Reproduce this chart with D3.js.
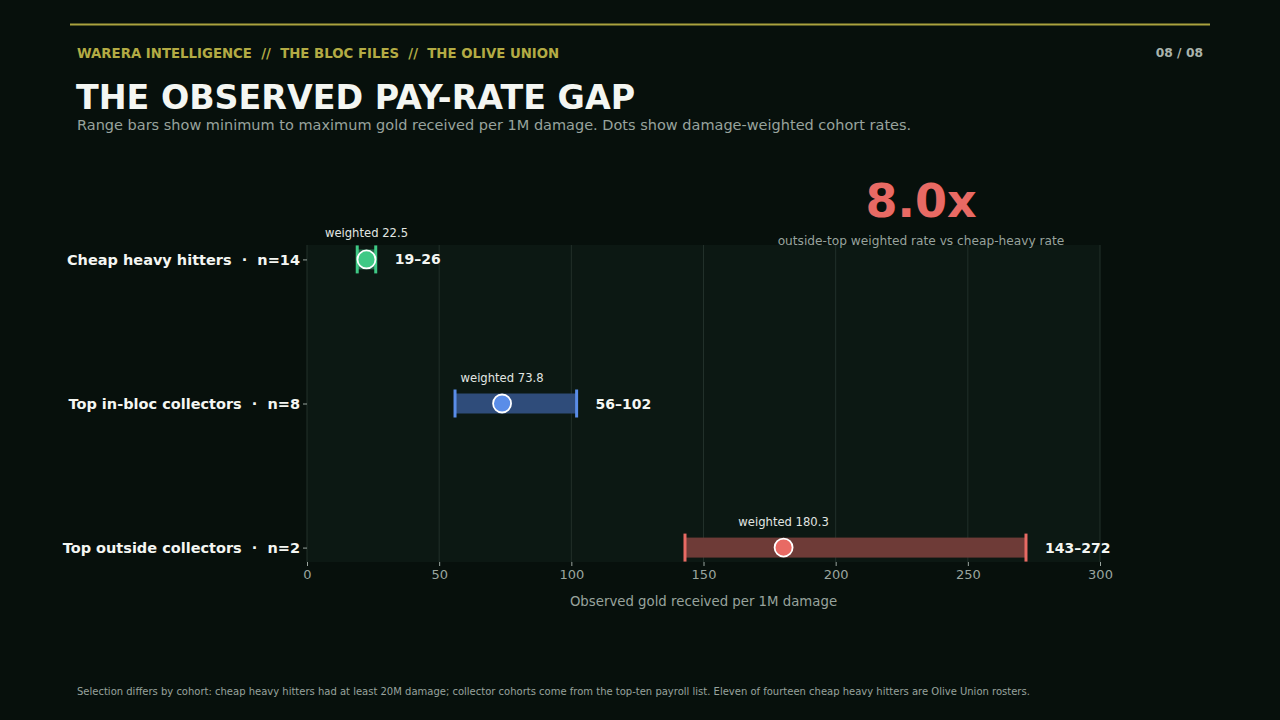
<!DOCTYPE html>
<html>
<head>
<meta charset="utf-8">
<script src="https://cdn.jsdelivr.net/npm/d3@7"></script>
<style>
  body { margin: 0; background: #07100c; }
  svg { display: block; font-family: "DejaVu Sans", sans-serif; }
</style>
</head>
<body>
<svg id="chart" width="1280" height="720"></svg>
<script>
// cohort data
const cohorts = ["Cheap heavy hitters  \u00b7  n=14", "Top in-bloc collectors  \u00b7  n=8", "Top outside collectors  \u00b7  n=2"];
const minRate = [19, 56, 143];
const maxRate = [26, 102, 272];
const weighted = [22.5, 73.8, 180.3];
const colors = ["#3fc985", "#5a8de8", "#e86a64"];
const fills = ["#24694a", "#2f4c7a", "#6e3b37"];
const xTicks = [0, 50, 100, 150, 200, 250, 300];

const ratio = weighted[2] / weighted[0];

const svg = d3.select("#chart");
const W = 1280;

svg.append("rect").attr("width", W).attr("height", 720).attr("fill", "#07100c");

// header
svg.append("line")
  .attr("x1", 70).attr("x2", 1210).attr("y1", 24.5).attr("y2", 24.5)
  .attr("stroke", "#aaa23e").attr("stroke-width", 2);

svg.append("text")
  .attr("x", 77).attr("y", 58)
  .attr("fill", "#b3ab44").style("font-size", "13.3px").style("font-weight", "bold")
  .attr("xml:space", "preserve")
  .text("WARERA INTELLIGENCE  //  THE BLOC FILES  //  THE OLIVE UNION");

svg.append("text")
  .attr("x", 1203).attr("y", 57).attr("text-anchor", "end")
  .attr("fill", "#aab4ad").style("font-size", "12.3px").style("font-weight", "bold")
  .text("08 / 08");

svg.append("text")
  .attr("x", 76).attr("y", 109)
  .attr("fill", "#f4f6f2").style("font-size", "33.3px").style("font-weight", "bold")
  .text("THE OBSERVED PAY-RATE GAP");

svg.append("text")
  .attr("x", 77).attr("y", 130)
  .attr("fill", "#98a39d").style("font-size", "14.5px")
  .text("Range bars show minimum to maximum gold received per 1M damage. Dots show damage-weighted cohort rates.");

// plot area
const x = d3.scaleLinear().domain([0, 300]).range([307, 1100]);
const y = d3.scalePoint().domain(cohorts).range([245, 562]).padding(0.1);

svg.append("rect")
  .attr("x", x(0)).attr("y", 245)
  .attr("width", x(300) - x(0)).attr("height", 562 - 245)
  .attr("fill", "#0c1813");

svg.append("g")
  .selectAll("line")
  .data(xTicks)
  .join("line")
  .attr("x1", d => x(d)).attr("x2", d => x(d))
  .attr("y1", 245).attr("y2", 562)
  .attr("stroke", "#22302a").attr("stroke-width", 1);

// headline ratio
svg.append("text")
  .attr("x", 921).attr("y", 217).attr("text-anchor", "middle")
  .attr("fill", "#e86a64").style("font-size", "46px").style("font-weight", "bold")
  .text(ratio.toFixed(1) + "x");

svg.append("text")
  .attr("x", 921).attr("y", 245).attr("text-anchor", "middle")
  .attr("fill", "#98a39d").style("font-size", "12.2px")
  .text("outside-top weighted rate vs cheap-heavy rate");

// axes
const xAxis = d3.axisBottom(x).tickValues(xTicks).tickSize(4).tickPadding(4);
const gx = svg.append("g").attr("transform", "translate(0,562)").call(xAxis);
gx.select(".domain").remove();
gx.selectAll(".tick line").attr("stroke", "#9aa59f");
gx.selectAll(".tick text").attr("fill", "#9aa59f").style("font-size", "13px").style("font-family", "DejaVu Sans");

const yAxis = d3.axisLeft(y).tickSize(4).tickPadding(3);
const gy = svg.append("g").attr("transform", "translate(307,0)").call(yAxis);
gy.select(".domain").remove();
gy.selectAll(".tick line").attr("stroke", "#9aa59f");
gy.selectAll(".tick text")
  .attr("fill", "#f4f6f2").attr("xml:space", "preserve")
  .style("font-size", "14.5px").style("font-weight", "bold").style("font-family", "DejaVu Sans");

svg.append("text")
  .attr("x", (x(0) + x(300)) / 2).attr("y", 606).attr("text-anchor", "middle")
  .attr("fill", "#98a39d").style("font-size", "13.3px")
  .text("Observed gold received per 1M damage");

// range bars
const rows = cohorts.map((c, i) => ({ c, lo: minRate[i], hi: maxRate[i], w: weighted[i], col: colors[i], fill: fills[i] }));
const barH = 20, capH = 28;

const g = svg.append("g").selectAll("g").data(rows).join("g");

g.append("rect")
  .attr("x", d => x(d.lo)).attr("y", d => y(d.c) - barH / 2)
  .attr("width", d => x(d.hi) - x(d.lo)).attr("height", barH)
  .attr("fill", d => d.fill);

g.selectAll("line.cap")
  .data(d => [d.lo, d.hi].map(v => ({ v, d })))
  .join("line")
  .attr("class", "cap")
  .attr("x1", e => x(e.v)).attr("x2", e => x(e.v))
  .attr("y1", e => y(e.d.c) - capH / 2).attr("y2", e => y(e.d.c) + capH / 2)
  .attr("stroke", e => e.d.col).attr("stroke-width", 3);

g.append("circle")
  .attr("cx", d => x(d.w)).attr("cy", d => y(d.c))
  .attr("r", 9)
  .attr("fill", d => d.col)
  .attr("stroke", "#ffffff").attr("stroke-width", 1.8);

g.append("text")
  .attr("x", d => x(d.w)).attr("y", d => y(d.c) - 22)
  .attr("text-anchor", "middle")
  .attr("fill", "#e2e6e2").style("font-size", "11.6px")
  .text(d => "weighted " + d.w.toFixed(1));

g.append("text")
  .attr("x", d => x(d.hi) + 19).attr("y", d => y(d.c) + 5)
  .attr("fill", "#f4f6f2").style("font-size", "14px").style("font-weight", "bold")
  .text(d => d.lo + "\u2013" + d.hi);

// footnote
svg.append("text")
  .attr("x", 77).attr("y", 695)
  .attr("fill", "#98a39d").style("font-size", "10px")
  .text("Selection differs by cohort: cheap heavy hitters had at least 20M damage; collector cohorts come from the top-ten payroll list. Eleven of fourteen cheap heavy hitters are Olive Union rosters.");
</script>
</body>
</html>
